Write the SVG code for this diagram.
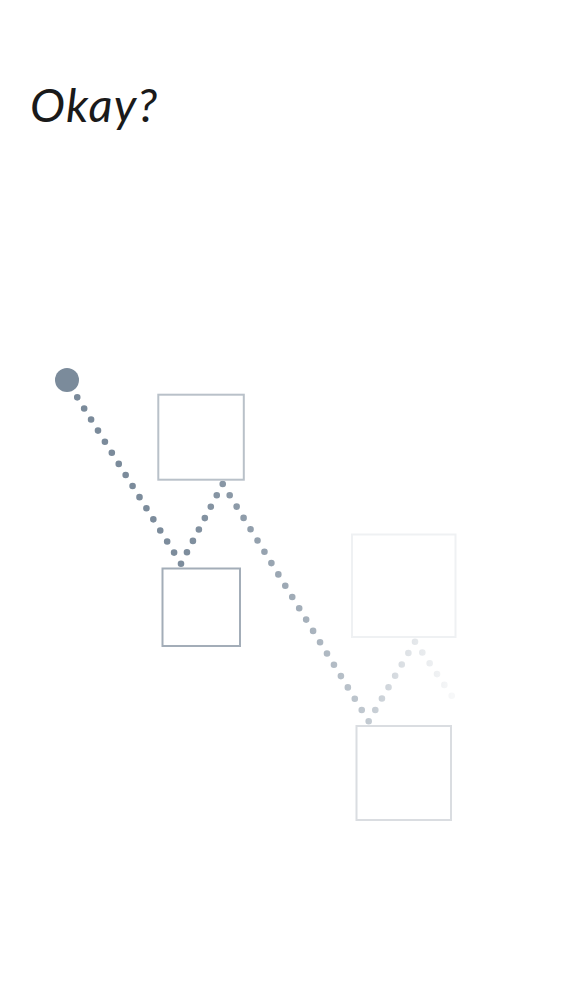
<svg xmlns="http://www.w3.org/2000/svg" width="562" height="1000" viewBox="0 0 562 1000">
  <style>
    .title { font-family: Lato, "Open Sans", "Liberation Sans", sans-serif; font-style: italic; font-weight: 400; font-size: 47px; letter-spacing: 1.3px; fill: #1a1a1a; }
    .box { fill: none; stroke-width: 2; }
    .dots { fill: none; stroke: url(#fade); stroke-width: 6.6; stroke-linecap: round; }
  </style>
  <defs>
    <linearGradient id="fade" gradientUnits="userSpaceOnUse" x1="67" y1="0" x2="452" y2="0">
      <stop offset="0" stop-color="#7a8a9a" stop-opacity="1"/>
      <stop offset="0.3" stop-color="#7a8a9a" stop-opacity="0.98"/>
      <stop offset="0.4" stop-color="#7a8a9a" stop-opacity="0.9"/>
      <stop offset="0.6" stop-color="#7a8a9a" stop-opacity="0.7"/>
      <stop offset="0.78" stop-color="#7a8a9a" stop-opacity="0.46"/>
      <stop offset="0.9" stop-color="#7a8a9a" stop-opacity="0.21"/>
      <stop offset="1" stop-color="#7a8a9a" stop-opacity="0.06"/>
    </linearGradient>
  </defs>
  <rect width="562" height="1000" fill="#ffffff"/>
  <text class="title" x="30" y="122">Okay?</text>

  <g id="connectors">
    <path class="dots" stroke-dasharray="0 13.07" d="M181 563.7 L76.4 396"/>
    <path class="dots" stroke-dasharray="0 12.86" d="M186.96 552.3 L223 483.4"/>
    <path class="dots" stroke-dasharray="0 13.267" d="M368.7 721.3 L226.2 489.6"/>
    <path class="dots" stroke-dasharray="0 13.157" d="M375.31 709.93 L415.25 641.27"/>
    <path class="dots" stroke-dasharray="0 13.06" d="M422.34 652.5 L451.98 696.1"/>
  </g>

  <g id="start">
    <circle cx="67" cy="380" r="12" fill="#7b8b9b"/>
  </g>
  <g id="box1">
    <rect class="box" x="158.3" y="394.7" width="85.5" height="85" stroke="#b9c1c9"/>
  </g>
  <g id="box2">
    <rect class="box" x="162.5" y="568.5" width="77.5" height="77.5" stroke="#a3adb8"/>
  </g>
  <g id="box3">
    <rect class="box" x="352" y="534.5" width="103.5" height="102.5" stroke="#eff1f3"/>
  </g>
  <g id="box4">
    <rect class="box" x="356.5" y="726" width="94.5" height="94" stroke="#dadde1"/>
  </g>
</svg>
